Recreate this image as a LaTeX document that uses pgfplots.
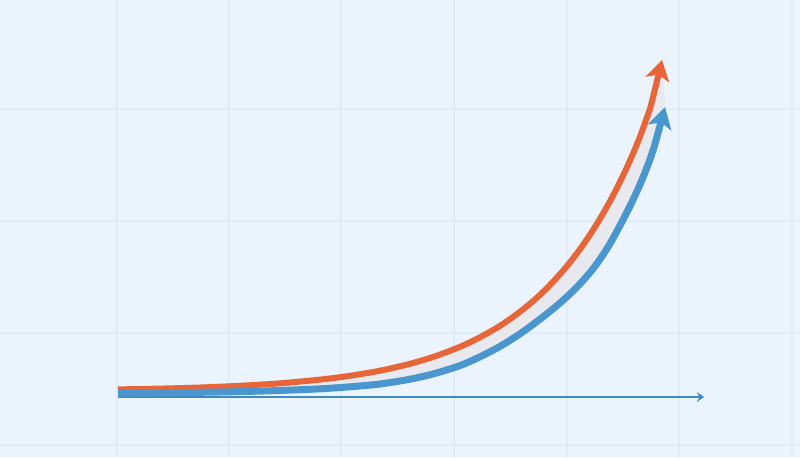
\documentclass[border=0pt]{standalone}
\usepackage{pgfplots}
\pgfplotsset{compat=1.18}
\usepackage{pgfplotstable}
\usepgfplotslibrary{fillbetween}
\usetikzlibrary{arrows.meta}

\definecolor{bgcol}{HTML}{EBF3FC}
\definecolor{gridcol}{HTML}{E0EBF7}
\definecolor{bandcol}{HTML}{E7E9EF}
\definecolor{orangecol}{HTML}{E8653A}
\definecolor{bluecol}{HTML}{4A97D0}
\definecolor{axiscol}{HTML}{3E8AC8}

% upper (orange) curve
\pgfplotstableread{
x y
118 67.6
160 68.4
200 69.5
240 71.2
280 73.7
320 77.4
350 81.2
380 86.3
410 93.2
435 100.7
460 110.2
480 119.7
500 131.2
518 143.7
535 157.6
550 172
565 188.6
578 205.1
590 222.3
601 239.9
611 257.6
620 275.1
628 292
635 308
641 323
646 337
651 352
662 397
}\orangedata

% lower (blue) curve
\pgfplotstableread{
x y
118 64
160 64.3
200 64.7
240 65.4
280 66.5
320 68.2
350 70.2
380 73
410 77.8
435 83.6
460 91.4
480 100.2
500 110.6
520 123.2
540 137.8
560 154
578 171
594 189.5
608 210
620 231.5
630 251
638 268
645 284.5
651 300.5
656 316.5
665 350
}\bluedata

\begin{document}
\begin{tikzpicture}
\begin{axis}[
    scale only axis,
    width=800bp, height=457bp,
    xmin=0, xmax=800, ymin=0, ymax=457,
    set layers,
    axis background/.style={fill=bgcol},
    axis line style={draw=none},
    major tick style={draw=none},
    xtick={117,229,341,454,567,679,792},
    ytick={12,124,236,348},
    xticklabels={}, yticklabels={},
    grid=major,
    grid style={gridcol, line width=1.2bp},
]
\addplot[draw=none, smooth, name path=o] table {\orangedata};
\addplot[draw=none, smooth, name path=b] table {\bluedata};
\addplot[fill=bandcol, draw=none] fill between[of=o and b];

\addplot[axiscol, line width=2bp, -{Stealth[length=7bp,width=10bp,inset=2.5bp]}]
    coordinates {(118,60) (704,60)};

\addplot[orangecol, line width=6bp, smooth,
    -{Stealth[length=20bp,width=24bp,inset=5bp]}] table {\orangedata};
\addplot[bluecol, line width=7bp, smooth,
    -{Stealth[length=21bp,width=24bp,inset=5bp]}] table {\bluedata};

\coordinate (sw) at (rel axis cs:0,0);
\coordinate (ne) at (rel axis cs:1,1);
\end{axis}
\pgfresetboundingbox
\path (sw) rectangle (ne);
\end{tikzpicture}
\end{document}
